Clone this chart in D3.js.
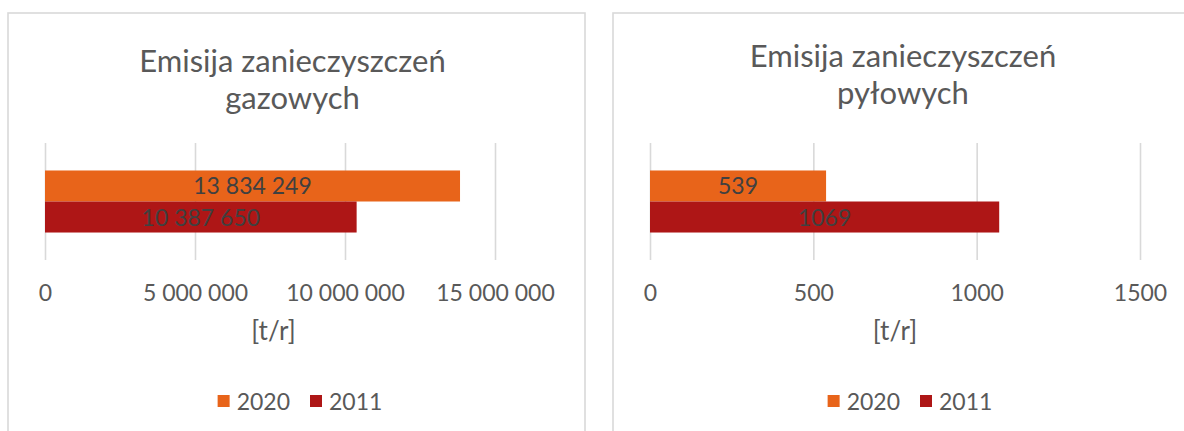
<!DOCTYPE html>
<html>
<head>
<meta charset="utf-8">
<script src="https://cdn.jsdelivr.net/npm/d3@7"></script>
<style>
  html, body { margin: 0; padding: 0; background: #ffffff; }
  svg { display: block; font-family: Lato, "Open Sans", sans-serif; }
</style>
</head>
<body>
<svg id="chart" width="1184" height="431"></svg>
<script>
// Series and category data
const years = ["2020", "2011"];
const yearColors = ["#E8641A", "#AE1616"];
const category = ["emisja"];

const gasTitle = ["Emisija zanieczyszczeń", "gazowych"];
const gasValues = [13834249, 10387650];
const gasTicks = [0, 5000000, 10000000, 15000000];

const dustTitle = ["Emisija zanieczyszczeń", "pyłowych"];
const dustValues = [539, 1069];
const dustTicks = [0, 500, 1000, 1500];

const axisTitle = "[t/r]";

// Number formats: grouped with spaces for the gas panel, plain for the dust panel
const plLocale = d3.formatLocale({ decimal: ",", thousands: " ", grouping: [3], currency: ["", " zł"] });
const fmtSpaced = plLocale.format(",d");
const fmtPlain = d3.format("d");

// Layout of the two chart panels
const panels = [
  { box: [8, 13, 577, 440], plot: [45, 495], titleX: 292.5, titleY: 72, axisTitleX: 273.5, legendX: 300,
    title: gasTitle, values: gasValues, ticks: gasTicks, fmt: fmtSpaced },
  { box: [613, 13, 577, 440], plot: [650, 1140], titleX: 903, titleY: 67, axisTitleX: 895, legendX: 910,
    title: dustTitle, values: dustValues, ticks: dustTicks, fmt: fmtPlain }
];

const plotTop = 143, plotBottom = 260;
const textColor = "#595959";
const labelColor = "#404040";
const gridColor = "#d9d9d9";

const svg = d3.select("#chart");

panels.forEach(p => {
  const g = svg.append("g");

  // panel frame
  g.append("rect")
    .attr("x", p.box[0]).attr("y", p.box[1])
    .attr("width", p.box[2]).attr("height", p.box[3])
    .attr("fill", "#ffffff")
    .attr("stroke", gridColor).attr("stroke-width", 1.6);

  // title (two lines)
  g.append("text")
    .attr("x", p.titleX).attr("y", p.titleY)
    .attr("text-anchor", "middle")
    .attr("fill", textColor)
    .style("font-size", "31px")
    .selectAll("tspan").data(p.title).join("tspan")
      .attr("x", p.titleX)
      .attr("dy", (d, i) => i === 0 ? 0 : 36.5)
      .text(d => d);

  const x = d3.scaleLinear()
    .domain([0, d3.max(p.ticks)])
    .range(p.plot);

  const y0 = d3.scaleBand().domain(category).range([plotTop, plotBottom]).padding(0.307);
  const y1 = d3.scaleBand().domain(years).range([0, y0.bandwidth()]);

  // vertical gridlines
  g.append("g")
    .attr("transform", `translate(0,${plotBottom})`)
    .call(d3.axisBottom(x).tickValues(p.ticks).tickSize(-(plotBottom - plotTop)).tickFormat(""))
    .call(a => a.select(".domain").remove())
    .call(a => a.selectAll(".tick line").attr("stroke", gridColor).attr("stroke-width", 1.6));

  // bars
  const rows = years.map((yr, i) => ({ year: yr, value: p.values[i], color: yearColors[i] }));
  const barG = g.append("g").attr("transform", `translate(0,${y0(category[0])})`);
  barG.selectAll("rect").data(rows).join("rect")
    .attr("x", x(0))
    .attr("y", d => y1(d.year))
    .attr("width", d => x(d.value) - x(0))
    .attr("height", y1.bandwidth())
    .attr("fill", d => d.color);

  // value labels, centred in each bar
  barG.selectAll("text").data(rows).join("text")
    .attr("x", d => (x(0) + x(d.value)) / 2)
    .attr("y", d => y1(d.year) + y1.bandwidth() / 2)
    .attr("dy", "0.37em")
    .attr("text-anchor", "middle")
    .attr("fill", labelColor)
    .style("font-size", "23px")
    .text(d => p.fmt(d.value));

  // tick labels
  g.append("g")
    .attr("transform", `translate(0,${plotBottom})`)
    .call(d3.axisBottom(x).tickValues(p.ticks).tickSize(0).tickPadding(25).tickFormat(p.fmt))
    .call(a => a.select(".domain").remove())
    .call(a => a.selectAll(".tick text")
      .attr("fill", textColor)
      .style("font-family", "Lato, sans-serif")
      .style("font-size", "23px"));

  // axis title
  g.append("text")
    .attr("x", p.axisTitleX)
    .attr("y", 340)
    .attr("text-anchor", "middle")
    .attr("fill", textColor)
    .style("font-size", "26px")
    .text(axisTitle);

  // legend
  const legend = g.append("g");
  const items = legend.selectAll("g").data(rows).join("g");
  items.append("rect")
    .attr("width", 12).attr("height", 12)
    .attr("y", 395)
    .attr("fill", d => d.color);
  items.append("text")
    .attr("x", 19).attr("y", 409.5)
    .attr("fill", textColor)
    .style("font-size", "23px")
    .text(d => d.year);
  // place items side by side, centred on legendX
  let cursor = 0;
  const widths = [];
  items.each(function () { widths.push(this.getBBox().width); });
  const gap = 20;
  const total = d3.sum(widths) + gap * (widths.length - 1);
  items.attr("transform", (d, i) => {
    const pos = p.legendX - total / 2 + cursor;
    cursor += widths[i] + gap;
    return `translate(${pos},0)`;
  });
});
</script>
</body>
</html>
